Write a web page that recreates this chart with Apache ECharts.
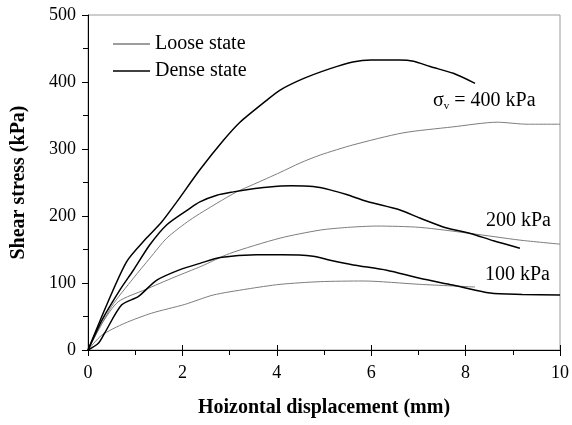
<!DOCTYPE html>
<html>
<head>
<meta charset="utf-8">
<script src="https://cdn.jsdelivr.net/npm/echarts@6/dist/echarts.min.js"></script>
<style>
  html, body { margin: 0; padding: 0; background: #fff; }
  #container { width: 572px; height: 425px; }
</style>
</head>
<body>
<div id="container"></div>
<script>
/* Data: [displacement (mm), shear stress (kPa)] */
var dense400 = [[0,0],[0.4,68],[0.82,132],[1.24,167],[1.56,191],[1.88,221],[2.37,269],[2.87,313],[3.22,340],[3.79,373],[4.07,388],[4.56,405],[5.13,420],[5.61,430],[6.0,433],[6.6,433],[6.9,431],[7.25,423],[7.74,413],[8.2,398]];
var dense200 = [[0,0],[0.3,45],[0.68,90],[0.96,119],[1.31,157],[1.67,187],[2.13,210],[2.37,221],[2.73,231],[3.08,236],[3.43,240],[3.79,243],[4.3,245],[4.77,244],[5.13,239],[5.48,232],[5.9,222],[6.61,209],[7.03,197],[7.6,182],[8.1,174],[8.59,163],[9.15,152]];
var dense100 = [[0,0],[0.22,10],[0.35,25],[0.71,67],[1.07,80],[1.45,104],[1.95,120],[2.4,130],[2.8,138],[3.57,142],[4.1,142],[4.77,140],[5.13,134],[5.62,127],[6.33,119],[7.03,107],[7.73,97],[8.52,85],[9.2,83],[10,82]];
var loose400 = [[0,0],[0.5,65],[0.96,107],[1.31,137],[1.67,167],[2.16,194],[2.73,219],[3.15,236],[3.5,247],[4.07,265],[4.49,279],[4.92,291],[5.61,306],[6.67,324],[7.73,333],[8.67,340],[9.3,337],[10,337]];
var loose200 = [[0,0],[0.3,40],[0.64,72],[1.21,90],[1.84,109],[2.4,125],[3.0,144],[4.07,167],[4.92,179],[5.5,183],[6.12,185],[7.03,183],[8.1,174],[9.15,164],[10,158]];
var loose100 = [[0,0],[0.29,22],[0.78,40],[1.35,55],[2.05,68],[2.65,82],[3.37,91],[4.07,98],[4.92,102],[5.83,103],[7.03,98],[8.2,94]];

var seriesNames = ['Loose state', 'Dense state'];
var FONT = 'Liberation Serif';

var dom = document.getElementById('container');
var myChart = echarts.init(dom, null, {renderer: 'canvas'});

function looseLine(data) {
    return {
        name: seriesNames[0], type: 'line', data: data,
        showSymbol: false, smooth: 0.25, color: '#7d7d7d',
        lineStyle: {width: 1, color: '#7d7d7d'}, animation: false
    };
}
function denseLine(data) {
    return {
        name: seriesNames[1], type: 'line', data: data,
        showSymbol: false, smooth: 0.25, color: '#000',
        lineStyle: {width: 1.5, color: '#000'}, animation: false
    };
}

var option = {
    animation: false,
    textStyle: {fontFamily: FONT, color: '#000'},
    grid: {
        left: 88, right: 12, top: 15, bottom: 75,
        show: true, borderColor: '#9a9a9a', borderWidth: 1
    },
    legend: {
        data: seriesNames,
        orient: 'vertical',
        left: 113, top: 34, padding: 0,
        icon: 'rect', itemWidth: 37, itemHeight: 1.5,
        itemGap: 7,
        textStyle: {fontFamily: FONT, fontSize: 20, color: '#000'}
    },
    xAxis: [{
        type: 'value', min: 0, max: 10, interval: 2,
        name: 'Hoizontal displacement (mm)',
        nameLocation: 'middle', nameGap: 48,
        nameTextStyle: {fontFamily: FONT, fontSize: 20, fontWeight: 'bold', color: '#000'},
        axisLine: {show: true, onZero: false, lineStyle: {color: '#000', width: 1}},
        axisTick: {show: true, inside: false, length: 6, lineStyle: {color: '#000'}},
        minorTick: {show: true, splitNumber: 2, length: 5, lineStyle: {color: '#000'}},
        axisLabel: {fontFamily: FONT, fontSize: 18, color: '#000', margin: 14},
        splitLine: {show: false}
    }, {
        // inward half of the crossing major ticks
        type: 'value', min: 0, max: 10, interval: 2, position: 'bottom',
        axisLine: {show: false},
        axisTick: {show: true, inside: true, length: 5, lineStyle: {color: '#000'}},
        axisLabel: {show: false},
        splitLine: {show: false}
    }],
    yAxis: {
        type: 'value', min: 0, max: 500, interval: 100,
        name: 'Shear stress (kPa)',
        nameLocation: 'middle', nameGap: 59,
        nameTextStyle: {fontFamily: FONT, fontSize: 20, fontWeight: 'bold', color: '#000'},
        axisLine: {show: true, onZero: false, lineStyle: {color: '#000', width: 1}},
        axisTick: {show: true, inside: false, length: 6, lineStyle: {color: '#000'}},
        minorTick: {show: true, splitNumber: 2, length: 5, lineStyle: {color: '#000'}},
        axisLabel: {fontFamily: FONT, fontSize: 18, color: '#000', margin: 12},
        splitLine: {show: false}
    },
    graphic: [{
        type: 'text', left: 433, top: 91,
        style: {
            text: '{a|σ}{b|v}{a| = 400 kPa}',
            rich: {
                a: {fontFamily: FONT, fontSize: 20, fill: '#000'},
                b: {fontFamily: FONT, fontSize: 11, fill: '#000', padding: [10, 0, 0, 0]}
            }
        }
    }, {
        type: 'text', left: 486, top: 211,
        style: {text: '200 kPa', fontFamily: FONT, fontSize: 20, fill: '#000'}
    }, {
        type: 'text', left: 485, top: 265,
        style: {text: '100 kPa', fontFamily: FONT, fontSize: 20, fill: '#000'}
    }],
    series: [
        looseLine(loose400), looseLine(loose200), looseLine(loose100),
        denseLine(dense400), denseLine(dense200), denseLine(dense100)
    ]
};

myChart.setOption(option);
</script>
</body>
</html>
